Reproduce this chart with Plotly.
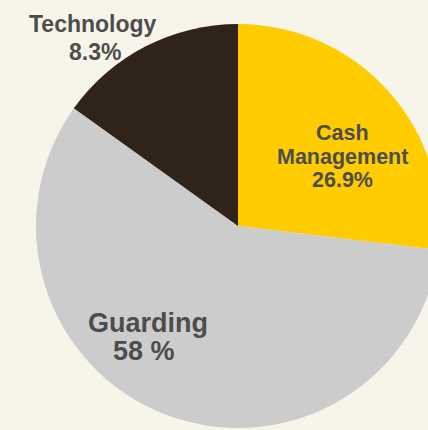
import plotly.graph_objects as go

# Data
segments = ["Cash Management", "Guarding", "Technology"]
slice_sizes = [26.9, 58.0, 15.1]          # visual share of each wedge
label_lines = [["Cash", "Management", "26.9%"], ["Guarding", "58 %"], ["Technology", "8.3%"]]
colors = ["#FFCC00", "#CCCCCC", "#30241A"]

W, H = 445, 430
cx, cy, r = 238, 226, 202

fig = go.Figure(go.Pie(
    labels=segments,
    values=slice_sizes,
    sort=False,
    direction="clockwise",
    rotation=0,
    marker=dict(colors=colors, line=dict(width=0)),
    textinfo="none",
    hoverinfo="label+percent",
    showlegend=False,
    domain=dict(x=[(cx - r) / W, min(1, (cx + r) / W)],
                y=[1 - (cy + r) / H, 1 - (cy - r) / H]),
))

# label placement (pixel centres of each line) and sizes
line_pos = [
    [(342, 132.5), (342, 157), (342.5, 180)],
    [(147.5, 323), (144, 351)],
    [(93, 23.7), (95, 51.7)],
]
font_sizes = [21.5, 27, 23]

for lines, pos, fs in zip(label_lines, line_pos, font_sizes):
    for txt, (px, py) in zip(lines, pos):
        fig.add_annotation(
            text=f"<b>{txt}</b>", x=px / W, y=1 - py / H, xref="paper", yref="paper",
            xanchor="center", yanchor="middle", showarrow=False,
            font=dict(family="Liberation Sans, Arial", size=fs, color="#4D4D4D"),
        )

fig.update_layout(
    width=W, height=H,
    margin=dict(l=0, r=0, t=0, b=0),
    paper_bgcolor="#F7F4EA",
    plot_bgcolor="#F7F4EA",
)

fig.write_html(
    "out.html",
    config={"displayModeBar": False},
    post_script="document.body.style.margin='0';document.body.style.overflow='hidden';document.documentElement.style.overflow='hidden';",
)
